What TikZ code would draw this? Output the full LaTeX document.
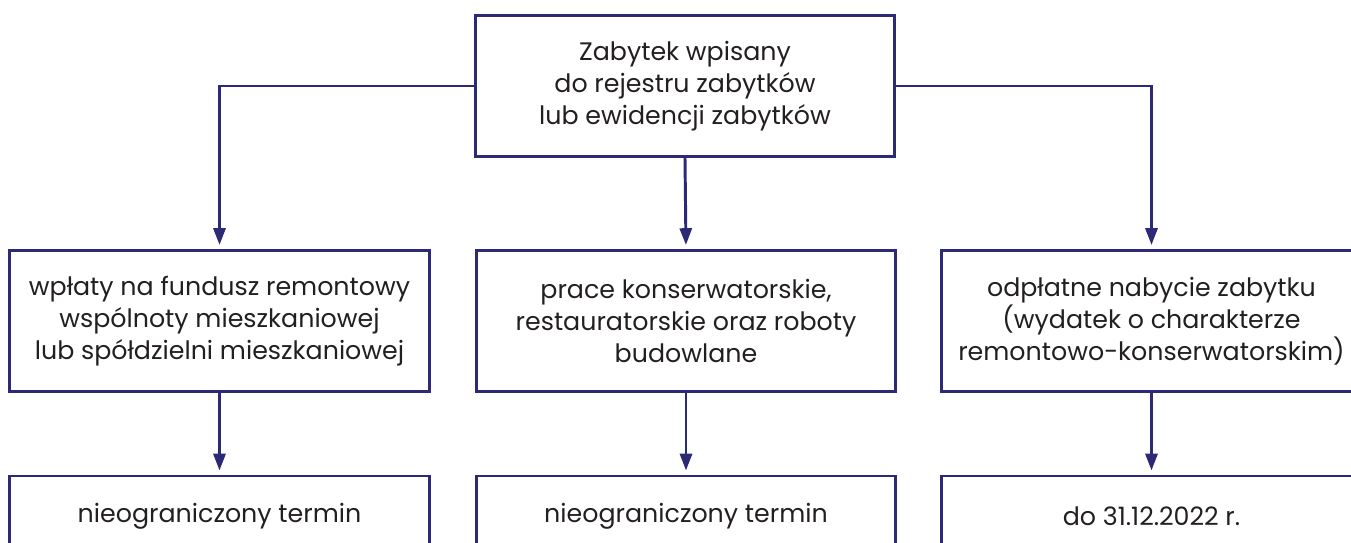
\documentclass[tikz,border=0pt]{standalone}
\usepackage{fontspec}
\setmainfont{Poppins}
\usetikzlibrary{arrows.meta}
\definecolor{boxline}{RGB}{44,42,118}
\definecolor{boxtext}{RGB}{35,31,32}

\begin{document}
\begin{tikzpicture}[x=0.025cm,y=-0.025cm]
    \tikzstyle{box}=[draw=boxline,line width=2.1pt,text=boxtext,align=center,minimum width=10.475cm,minimum height=3.525cm,inner sep=0pt,font=\fontsize{18}{22.8}\selectfont]
    \tikzstyle{term box}=[style=box,minimum height=2cm]
    \tikzstyle{connector}=[draw=boxline,line width=2.1pt,-{Triangle[length=0.42cm,width=0.3cm]},shorten >=0.1cm]
    \useasboundingbox (0,0) rectangle (1351,542);
    \clip (0,0) rectangle (1351,542);

    % Top: the monument
    \node[style=box] (zabytek) at (685,86) {Zabytek wpisany\\do rejestru zabytków\\lub ewidencji zabytków};

    % Middle row: kinds of expenses
    \node[style=box] (fundusz) at (219.5,321) {wpłaty na fundusz remontowy\\wspólnoty mieszkaniowej\\lub spółdzielni mieszkaniowej};
    \node[style=box] (prace) at (686,321) {prace konserwatorskie,\\restauratorskie oraz roboty\\budowlane};
    \node[style=box] (nabycie) at (1151.5,321) {odpłatne nabycie zabytku\\(wydatek o charakterze\\remontowo-konserwatorskim)};

    % Bottom row: time limits
    \node[style=term box] (termin fundusz) at (219.5,516) {nieograniczony termin};
    \node[style=term box] (termin prace) at (686,516) {nieograniczony termin};
    \node[style=term box] (termin nabycie) at (1151.5,516) {do 31.12.2022 r.};

    % Arrows
    \draw[style=connector] (zabytek.west) -| (fundusz.north);
    \draw[style=connector] (zabytek.south) -- (prace.north);
    \draw[style=connector] (zabytek.east) -| (nabycie.north);
    \draw[style=connector] (fundusz.south) -- (termin fundusz.north);
    \draw[style=connector] (prace.south) -- (termin prace.north);
    \draw[style=connector] (nabycie.south) -- (termin nabycie.north);
\end{tikzpicture}
\end{document}
